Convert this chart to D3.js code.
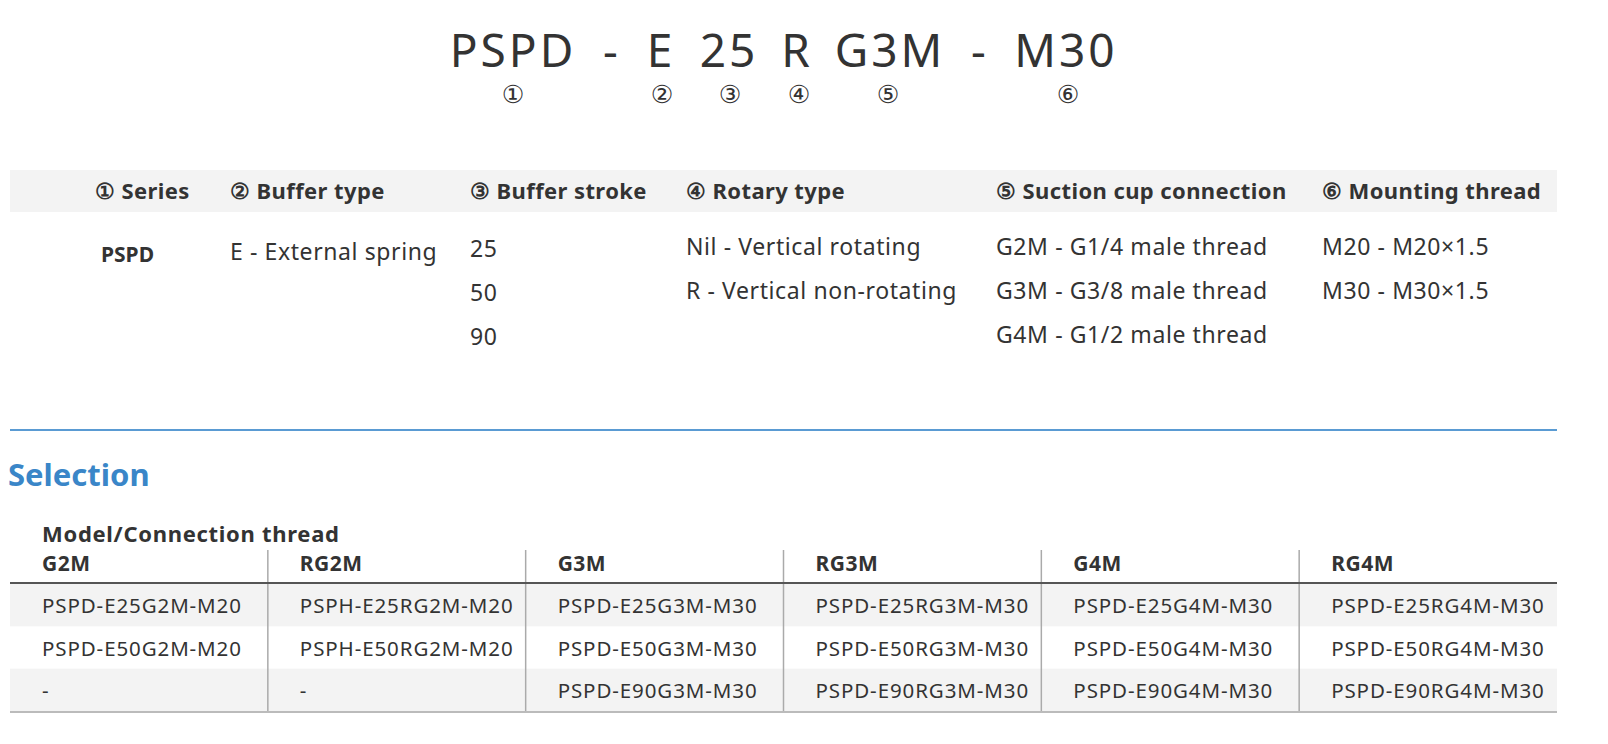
<!DOCTYPE html>
<html><head><meta charset="utf-8">
<script src="https://cdn.jsdelivr.net/npm/d3@7"></script>
<style>body{margin:0;background:#fff}svg{display:block}</style>
</head><body><svg id="c" width="1608" height="744"></svg>
<script>
const codeParts = ["PSPD", "-", "E", "25", "R", "G3M", "-", "M30"];
const codeX = [513, 612, 661, 729, 797, 890, 980, 1066];
const markers = ["①", "②", "③", "④", "⑤", "⑥"];
const markerX = [513, 662, 730, 799, 888, 1068];

const specHeaders = ["① Series", "② Buffer type", "③ Buffer stroke", "④ Rotary type", "⑤ Suction cup connection", "⑥ Mounting thread"];
const specX = [95, 230, 470, 686, 996, 1322];
const specCols = [
  ["PSPD"],
  ["E - External spring"],
  ["25", "50", "90"],
  ["Nil - Vertical rotating", "R - Vertical non-rotating"],
  ["G2M - G1/4 male thread", "G3M - G3/8 male thread", "G4M - G1/2 male thread"],
  ["M20 - M20×1.5", "M30 - M30×1.5"]
];

const selHeaders = ["G2M", "RG2M", "G3M", "RG3M", "G4M", "RG4M"];
const selRows = [
  ["PSPD-E25G2M-M20", "PSPH-E25RG2M-M20", "PSPD-E25G3M-M30", "PSPD-E25RG3M-M30", "PSPD-E25G4M-M30", "PSPD-E25RG4M-M30"],
  ["PSPD-E50G2M-M20", "PSPH-E50RG2M-M20", "PSPD-E50G3M-M30", "PSPD-E50RG3M-M30", "PSPD-E50G4M-M30", "PSPD-E50RG4M-M30"],
  ["-", "-", "PSPD-E90G3M-M30", "PSPD-E90RG3M-M30", "PSPD-E90G4M-M30", "PSPD-E90RG4M-M30"]
];

const svg = d3.select("#c");
const font = "'Noto Sans', 'Open Sans', sans-serif";
const ink = "#333";

// model code
svg.selectAll(".code").data(codeParts).join("text")
  .attr("x", (d, i) => codeX[i]).attr("y", 67).attr("text-anchor", "middle")
  .attr("font-family", font).attr("font-size", 46).attr("fill", ink)
  .attr("letter-spacing", 3).text(d => d);
svg.selectAll(".mk").data(markers).join("text")
  .attr("x", (d, i) => markerX[i]).attr("y", 103).attr("text-anchor", "middle")
  .attr("font-family", "'DejaVu Sans', sans-serif").attr("font-size", 25).attr("fill", ink).text(d => d);

// spec table
svg.append("rect").attr("x", 10).attr("y", 170).attr("width", 1547).attr("height", 42).attr("fill", "#f3f3f3");
svg.selectAll(".sh").data(specHeaders).join("text")
  .attr("x", (d, i) => specX[i]).attr("y", 199)
  .attr("font-family", font).attr("font-size", 22).attr("font-weight", "bold")
  .attr("letter-spacing", 0.4).attr("fill", ink).text(d => d);
const rowY = d3.scaleLinear().domain([0, 1]).range([255, 299]);
specCols.forEach((col, ci) => {
  svg.selectAll(".sc" + ci).data(col).join("text")
    .attr("x", specX[ci] + (ci === 0 ? 6 : 0))
    .attr("y", (d, i) => ci === 0 ? 262 : ci === 1 ? 260 : rowY(i) + (ci === 2 ? 2 : 0))
    .attr("font-family", font).attr("font-size", ci === 0 ? 21 : 23)
    .attr("letter-spacing", ci === 0 ? 0 : 0.6)
    .attr("font-weight", ci === 0 ? "bold" : "normal").attr("fill", ink).text(d => d);
});

// selection section
svg.append("line").attr("x1", 10).attr("x2", 1557).attr("y1", 430).attr("y2", 430)
  .attr("stroke", "#5a9bd3").attr("stroke-width", 2);
svg.append("text").attr("x", 8).attr("y", 486).attr("font-family", font).attr("font-size", 31)
  .attr("font-weight", "bold").attr("fill", "#3a86c8").text("Selection");
svg.append("text").attr("x", 42).attr("y", 542).attr("font-family", font).attr("font-size", 22)
  .attr("font-weight", "bold").attr("letter-spacing", 0.7).attr("fill", ink).text("Model/Connection thread");

const colX = d3.scaleLinear().domain([0, 6]).range([10, 1557]);
const ry = d3.scaleLinear().domain([0, 3]).range([584, 711]);
selRows.forEach((r, i) => {
  if (i % 2 === 0) svg.append("rect").attr("x", 10).attr("y", ry(i)).attr("width", 1547)
    .attr("height", ry(i + 1) - ry(i)).attr("fill", "#f3f3f3");
});
d3.range(1, 6).forEach(i => {
  svg.append("line").attr("x1", colX(i)).attr("x2", colX(i)).attr("y1", 550).attr("y2", 711)
    .attr("stroke", "#aaa").attr("stroke-width", 1.5);
});
svg.append("line").attr("x1", 10).attr("x2", 1557).attr("y1", 583).attr("y2", 583).attr("stroke", "#555").attr("stroke-width", 2);
svg.append("line").attr("x1", 10).attr("x2", 1557).attr("y1", 712).attr("y2", 712).attr("stroke", "#bbb").attr("stroke-width", 2);

svg.selectAll(".selh").data(selHeaders).join("text")
  .attr("x", (d, i) => colX(i) + 32).attr("y", 571)
  .attr("font-family", font).attr("font-size", 21).attr("font-weight", "bold")
  .attr("letter-spacing", 0.5).attr("fill", ink).text(d => d);
selRows.forEach((r, ri) => {
  svg.selectAll(".r" + ri).data(r).join("text")
    .attr("x", (d, i) => colX(i) + 32).attr("y", (ry(ri) + ry(ri + 1)) / 2 + 8)
    .attr("font-family", font).attr("font-size", 20.5).attr("letter-spacing", 0.9)
    .attr("fill", ink).text(d => d);
});
</script></body></html>
